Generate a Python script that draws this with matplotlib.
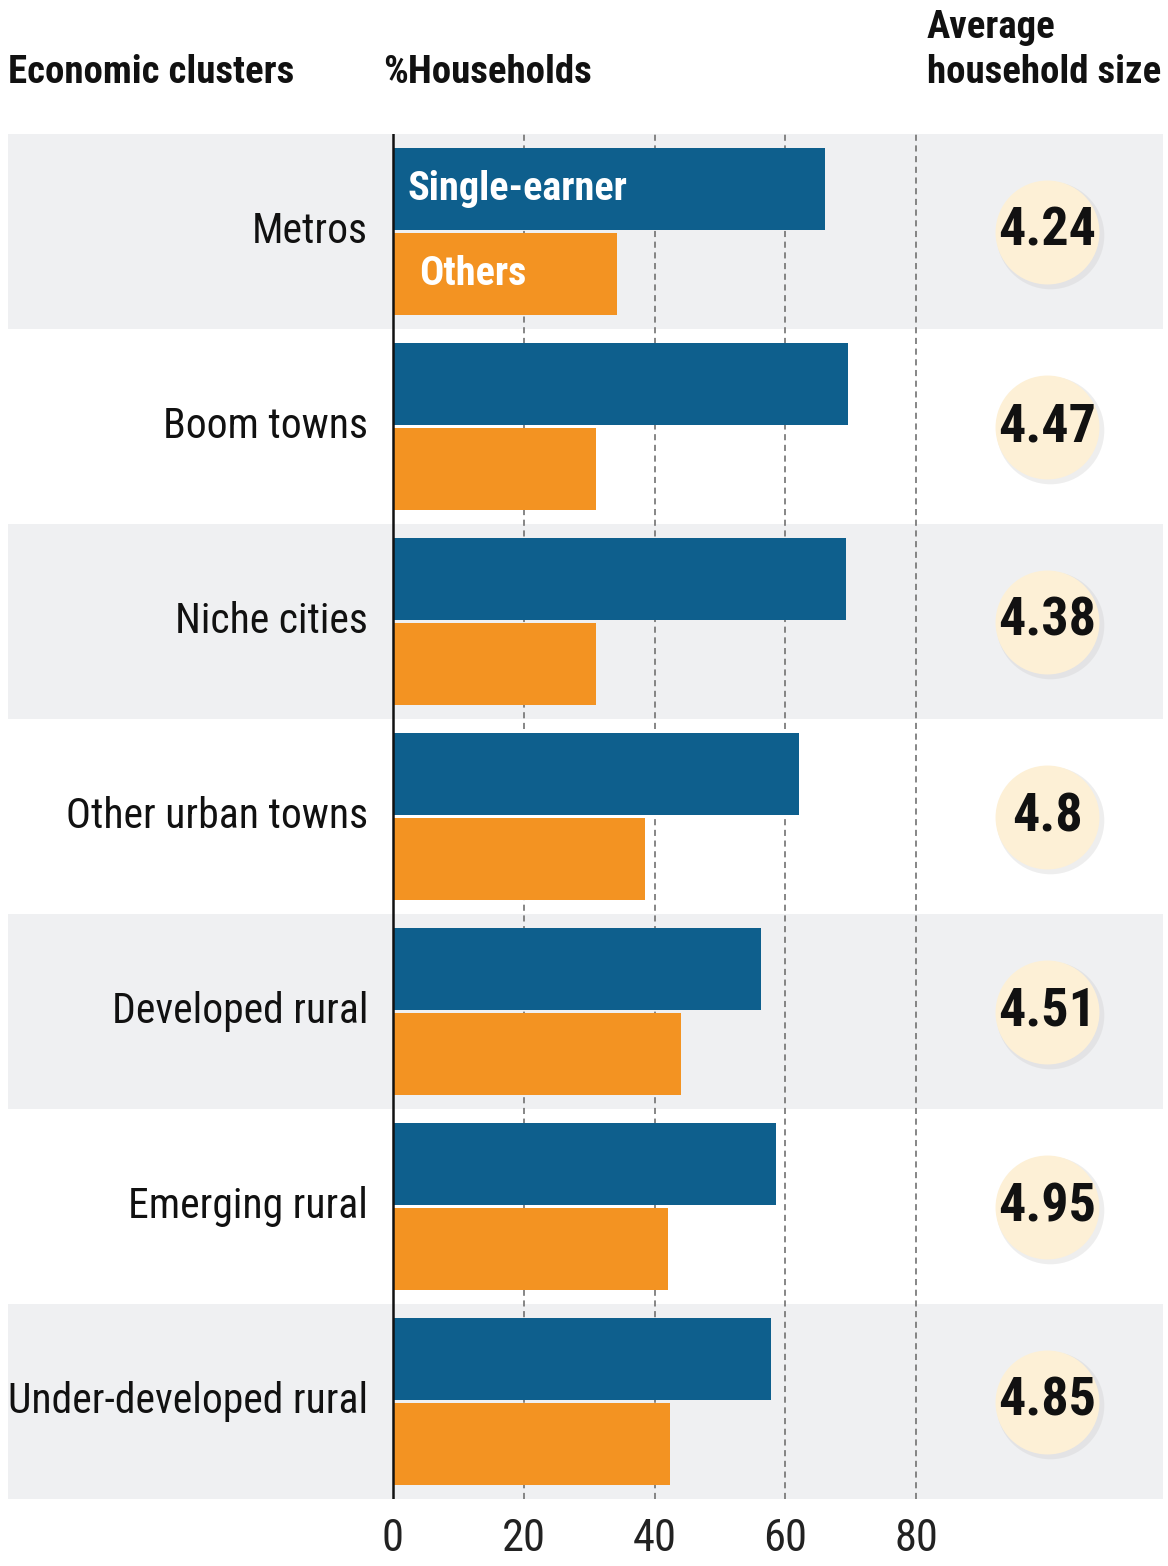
import matplotlib
matplotlib.use("Agg")
import matplotlib.pyplot as plt
from matplotlib import font_manager

# data
categories = ["Metros", "Boom towns", "Niche cities", "Other urban towns",
              "Developed rural", "Emerging rural", "Under-developed rural"]
single_earner = [66.1, 69.6, 69.2, 62.1, 56.2, 58.6, 57.8]
others = [34.2, 31.1, 31.1, 38.6, 44.1, 42.1, 42.4]
hh_size = [4.24, 4.47, 4.38, 4.8, 4.51, 4.95, 4.85]
xticks = [0, 20, 40, 60, 80]

# pick a narrow font if one is there
names = {f.name for f in font_manager.fontManager.ttflist}
narrow = "DejaVu Sans"
for cand in ["Roboto Condensed", "Liberation Sans Narrow", "Open Sans Condensed", "Liberation Sans"]:
    if cand in names:
        narrow = cand
        break
plt.rcParams["font.family"] = [narrow, "DejaVu Sans"]

blue = "#0e5f8d"
orange = "#f39322"
band = "#eff0f2"
cream = "#fdf0d6"

fig = plt.figure(figsize=(11.68, 15.66), dpi=100)
# axes spans the full row band width, x=0 sits at 393px
ax = fig.add_axes([8 / 1168, 67 / 1566, 1155 / 1168, 1365 / 1566])
px = 6.54
ax.set_xlim((8 - 393) / px, (1163 - 393) / px)
ax.set_ylim(len(categories) - 0.5, -0.5)

for i in range(len(categories)):
    if i % 2 == 0:
        ax.axhspan(i - 0.5, i + 0.5, color=band, zorder=0, lw=0)

for t in xticks[1:]:
    ax.axvline(t, color="#666666", lw=1.1, ls=(0, (4, 3)), zorder=1)
ax.axvline(0, color="#111111", lw=1.8, zorder=3)

y = list(range(len(categories)))
h = 0.42
ax.barh([v - 0.216 for v in y], single_earner, height=h, color=blue, zorder=2)
ax.barh([v + 0.216 for v in y], others, height=h, color=orange, zorder=2)

ax.text(2.2, -0.216, "Single-earner", color="white", fontsize=29, fontweight="bold",
        va="center", ha="left", zorder=4)
ax.text(4.0, 0.216, "Others", color="white", fontsize=29, fontweight="bold",
        va="center", ha="left", zorder=4)

for i, c in enumerate(categories):
    ax.text(-3.8, i, c, fontsize=30, ha="right", va="center", color="#111111")

cx = (1047 - 393) / px
ax.scatter([cx + 0.4] * len(y), [v + 0.02 for v in y], s=6000, color="#c8c8c8",
           alpha=0.3, lw=0, zorder=4)
ax.scatter([cx] * len(y), y, s=5600, color=cream, lw=0, zorder=5)
for i, v in enumerate(hh_size):
    ax.text(cx, i, f"{v:g}", fontsize=39, fontweight="bold", ha="center",
            va="center", color="#111111", zorder=6)

ax.set_xticks(xticks)
ax.set_xticklabels([str(t) for t in xticks], fontsize=32, color="#222222")
ax.tick_params(axis="x", length=0, pad=14)
ax.set_yticks([])
for s in ax.spines.values():
    s.set_visible(False)

fig.text(8 / 1168, 1 - 83 / 1566, "Economic clusters", fontsize=28,
         fontweight="bold", va="baseline", color="#111111")
fig.text(383 / 1168, 1 - 83 / 1566, "%Households", fontsize=28,
         fontweight="bold", va="baseline", color="#111111")
fig.text(927 / 1168, 1 - 38 / 1566, "Average", fontsize=28,
         fontweight="bold", va="baseline", color="#111111")
fig.text(927 / 1168, 1 - 83 / 1566, "household size", fontsize=28,
         fontweight="bold", va="baseline", color="#111111")

fig.savefig("out.png", dpi=100)
